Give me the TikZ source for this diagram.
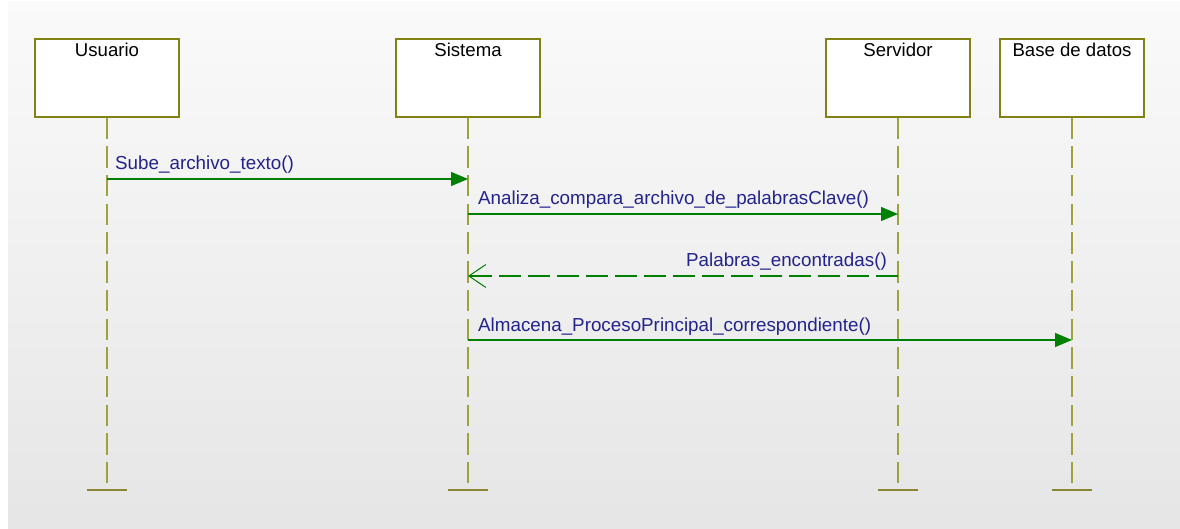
\documentclass[tikz,border=0pt]{standalone}
\usepackage{fontspec}
\setmainfont{Liberation Sans}
\usetikzlibrary{arrows.meta,positioning}

\definecolor{boxline}{RGB}{130,130,20}
\definecolor{lifecol}{RGB}{160,160,60}
\definecolor{callgreen}{RGB}{0,128,0}
\definecolor{msgblue}{RGB}{35,35,140}

\tikzset{
  objbox/.style={draw=boxline, line width=1.4pt, fill=white, minimum width=144pt, minimum height=78pt, inner sep=0},
  objtxt/.style={anchor=base, font=\fontsize{18.6}{22}\selectfont, text=black},
  lifeline/.style={draw=lifecol, line width=1.2pt, dash pattern=on 21.4pt off 7.3pt},
  endbar/.style={draw=lifecol!85!black, line width=2pt},
  call/.style={draw=callgreen, line width=1.2pt, -{Triangle[length=17pt,width=14pt]}},
  reply/.style={draw=callgreen, line width=1.2pt, dash pattern=on 22.5pt off 6.5pt, -{Straight Barb[length=17pt,width=23pt,line width=1pt]}},
  msgtxt/.style={font=\fontsize{18.8}{22}\selectfont, text=msgblue, inner sep=0}
}

\begin{document}
\begin{tikzpicture}[x=1pt,y=-1pt]

\useasboundingbox (0,0) rectangle (1180,529);
\shade[top color=white!98!black, bottom color=white!90!black] (8,2) rectangle (1180,529);

% objects
\node[objbox] (usuario) at (107,78) {};
\node[objbox] (sistema) at (468,78) {};
\node[objbox] (servidor) at (898,78) {};
\node[objbox] (basedatos) at (1072,78) {};

\node[objtxt] (usuariotxt) at ([yshift=-18pt]usuario.north) {Usuario};
\node[objtxt] (sistematxt) at ([yshift=-18pt]sistema.north) {Sistema};
\node[objtxt] (servidortxt) at ([yshift=-18pt]servidor.north) {Servidor};
\node[objtxt] (basedatostxt) at ([yshift=-18pt]basedatos.north) {Base de datos};

% lifelines
\coordinate (usuarioend) at (usuario |- 0,483);
\coordinate (sistemaend) at (sistema |- 0,483);
\coordinate (servidorend) at (servidor |- 0,483);
\coordinate (basedatosend) at (basedatos |- 0,483);

\draw[lifeline] (usuario.south) -- (usuarioend);
\draw[lifeline] (sistema.south) -- (sistemaend);
\draw[lifeline] (servidor.south) -- (servidorend);
\draw[lifeline] (basedatos.south) -- (basedatosend);

\foreach \obj in {usuario,sistema,servidor,basedatos}
  \draw[endbar] ([xshift=-20pt,yshift=-7pt]\obj end) -- ([xshift=20pt,yshift=-7pt]\obj end);

% messages
\coordinate (m1s) at (usuario |- 0,179);
\coordinate (m1e) at (sistema |- 0,179);
\draw[call] (m1s) -- (m1e);
\node[msgtxt, anchor=base west] (m1) at ([xshift=8pt,yshift=9pt]m1s) {Sube\_archivo\_texto()};

\coordinate (m2s) at (sistema |- 0,214);
\coordinate (m2e) at (servidor |- 0,214);
\draw[call] (m2s) -- (m2e);
\node[msgtxt, anchor=base west] (m2) at ([xshift=10pt,yshift=9pt]m2s) {Analiza\_compara\_archivo\_de\_palabrasClave()};

\coordinate (m3s) at (servidor |- 0,276);
\coordinate (m3e) at (sistema |- 0,276);
\draw[reply] (m3s) -- (m3e);
\node[msgtxt, anchor=base east] (m3) at ([xshift=-11pt,yshift=10pt]m3s) {Palabras\_encontradas()};

\coordinate (m4s) at (sistema |- 0,340);
\coordinate (m4e) at (basedatos |- 0,340);
\draw[call] (m4s) -- (m4e);
\node[msgtxt, anchor=base west] (m4) at ([xshift=10pt,yshift=9pt]m4s) {Almacena\_ProcesoPrincipal\_correspondiente()};

\end{tikzpicture}
\end{document}
